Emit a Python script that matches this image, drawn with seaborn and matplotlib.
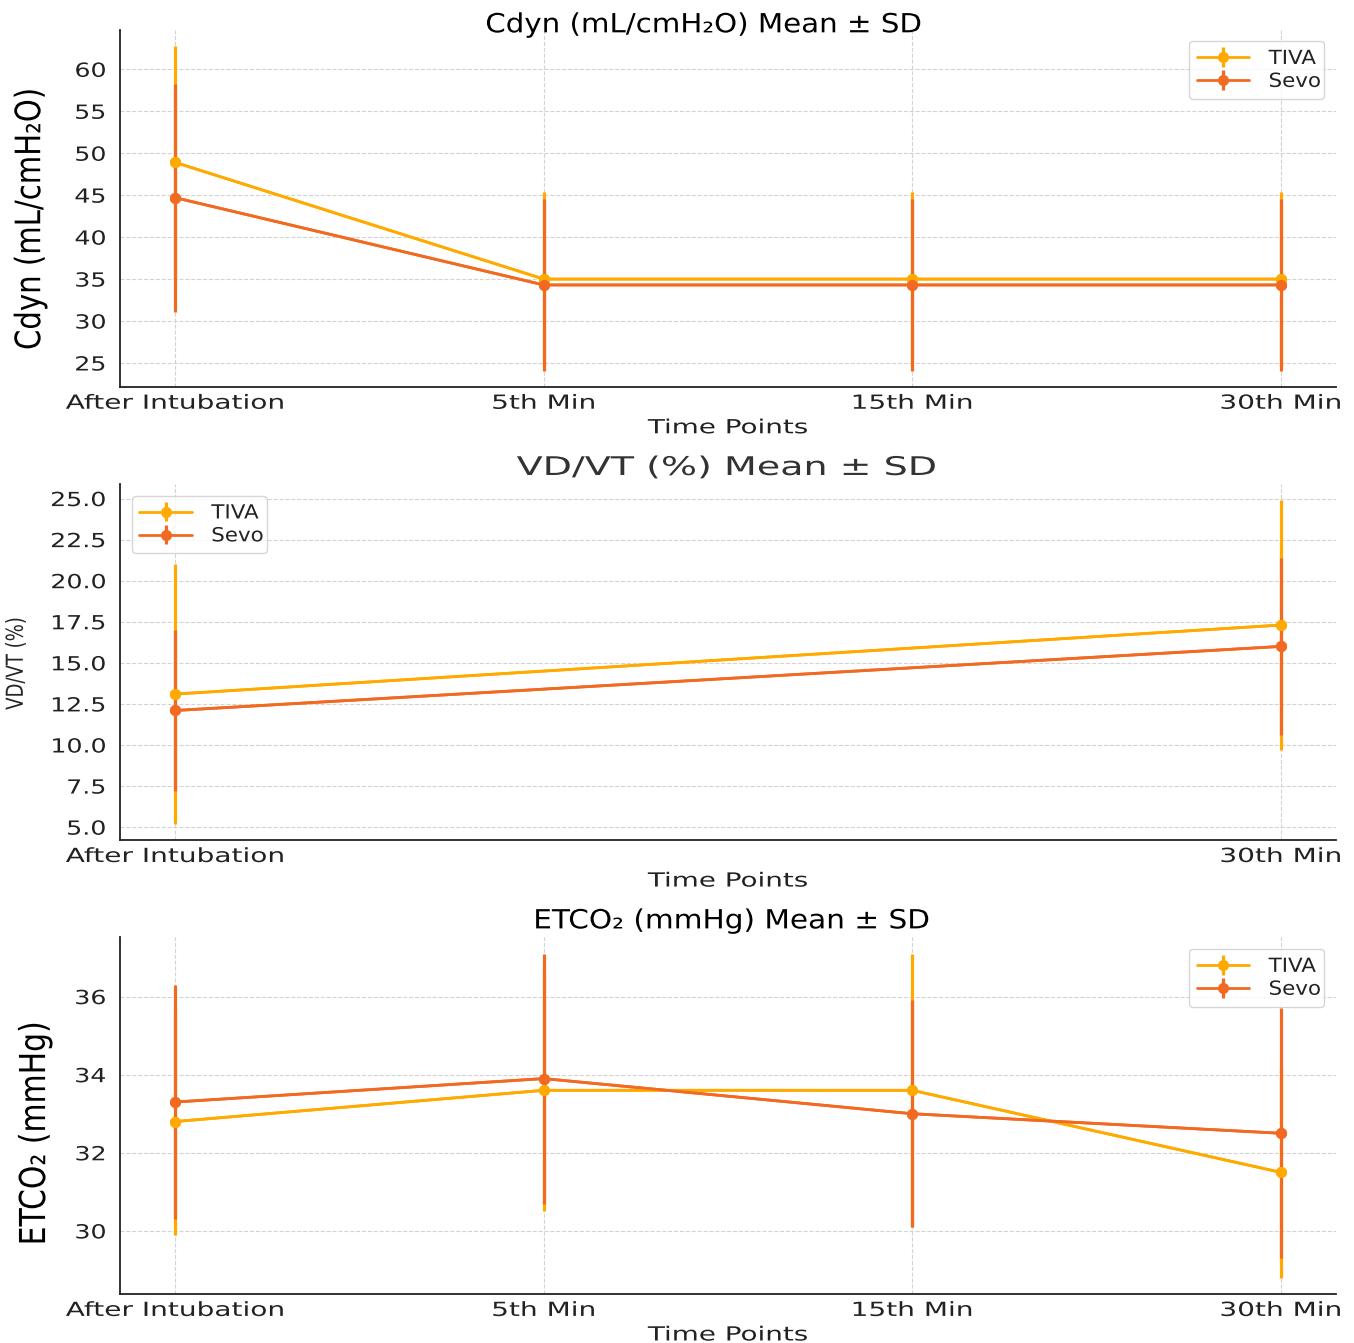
import numpy as np
import matplotlib
matplotlib.use("Agg")
import matplotlib.pyplot as plt
import seaborn as sns
from matplotlib.patheffects import AbstractPathEffect
from matplotlib.transforms import Affine2D
from matplotlib.ticker import FormatStrFormatter

# dados (média e DP)
tempos4 = ["After Intubation", "5th Min", "15th Min", "30th Min"]
tempos2 = ["After Intubation", "30th Min"]

cdyn_tiva = [48.9, 35.0, 35.0, 35.0]
cdyn_tiva_sd = [13.9, 10.4, 10.4, 10.4]
cdyn_sevo = [44.7, 34.3, 34.3, 34.3]
cdyn_sevo_sd = [13.6, 10.2, 10.2, 10.2]

vdvt_tiva = [13.1, 17.3]
vdvt_tiva_sd = [7.9, 7.6]
vdvt_sevo = [12.1, 16.0]
vdvt_sevo_sd = [4.9, 5.4]

etco2_tiva = [32.8, 33.6, 33.6, 31.5]
etco2_tiva_sd = [2.9, 3.1, 3.5, 2.7]
etco2_sevo = [33.3, 33.9, 33.0, 32.5]
etco2_sevo_sd = [3.0, 3.2, 2.9, 3.2]

cores = {"TIVA": "#FFAA00", "Sevo": "#F26A21"}


class Esticar(AbstractPathEffect):
    """Alarga o texto na horizontal (o original estava esticado)."""
    def __init__(self, sx=1.0, sy=1.0, ancora="center"):
        super().__init__()
        self.sx, self.sy, self.ancora = sx, sy, ancora

    def draw_path(self, renderer, gc, tpath, affine, rgbFace=None):
        ext = affine.transform_path(tpath).get_extents()
        if self.ancora == "right":
            cx = ext.x1
        elif self.ancora == "left":
            cx = ext.x0
        else:
            cx = (ext.x0 + ext.x1) / 2
        cy = (ext.y0 + ext.y1) / 2
        t = affine + Affine2D().translate(-cx, -cy).scale(self.sx, self.sy).translate(cx, cy)
        renderer.draw_path(gc, tpath, t, rgbFace)


sns.set_style("whitegrid", {"grid.linestyle": "--", "grid.color": "#d3d3d3",
                            "axes.edgecolor": "#222222"})
plt.rcParams["font.family"] = ["DejaVu Sans"]
plt.rcParams["xtick.direction"] = "in"
plt.rcParams["ytick.direction"] = "in"

fig = plt.figure(figsize=(13.54, 13.43), dpi=100)
L, W = 0.0886, 0.8981
posicoes = [(L, 0.712, W, 0.266), (L, 0.3745, W, 0.2651), (L, 0.0365, W, 0.2655)]

paineis = [
    (tempos4, cdyn_tiva, cdyn_tiva_sd, cdyn_sevo, cdyn_sevo_sd,
     "Cdyn (mL/cmH₂O) Mean ± SD", "Cdyn (mL/cmH₂O)", "upper right"),
    (tempos2, vdvt_tiva, vdvt_tiva_sd, vdvt_sevo, vdvt_sevo_sd,
     "VD/VT (%) Mean ± SD", "VD/VT (%)", "upper left"),
    (tempos4, etco2_tiva, etco2_tiva_sd, etco2_sevo, etco2_sevo_sd,
     "ETCO₂ (mmHg) Mean ± SD", "ETCO₂ (mmHg)", "upper right"),
]

eixos = []
for i, (tempos, m1, s1, m2, s2, titulo, ylab, loc) in enumerate(paineis):
    ax = fig.add_axes(posicoes[i])
    eixos.append(ax)
    x = np.arange(len(tempos))
    for nome, m, s in [("TIVA", m1, s1), ("Sevo", m2, s2)]:
        sns.lineplot(x=x, y=m, ax=ax, color=cores[nome], marker="o",
                     markersize=8, markeredgewidth=0, linewidth=2.0, legend=False)
        ax.errorbar(x, m, yerr=s, fmt="-o", color=cores[nome], elinewidth=2.3,
                    capsize=0, markersize=8, markeredgewidth=0, linewidth=2.0,
                    label=nome)
    ax.set_xticks(x)
    ax.set_xticklabels(tempos, fontsize=14, color="#222222")
    ax.tick_params(axis="y", labelsize=14, labelcolor="#222222", length=0, pad=10)
    ax.tick_params(axis="x", length=6, pad=5, color="#222222")
    ax.margins(x=0.05, y=0.05)
    for lado in ["top", "right"]:
        ax.spines[lado].set_visible(False)
    for lado in ["left", "bottom"]:
        ax.spines[lado].set_linewidth(1.3)
    ax.set_xlabel("Time Points", fontsize=14, color="#222222", labelpad=4,
                  path_effects=[Esticar(1.43)])
    if i == 1:
        ax.set_title(titulo, fontsize=18.5, color="#333333", pad=6.5, x=0.499,
                     path_effects=[Esticar(1.48)])
        ax.set_ylabel(ylab, fontsize=13, path_effects=[Esticar(1.3)])
        ax.yaxis.set_label_coords(-0.078, 0.496)
        ax.yaxis.set_major_formatter(FormatStrFormatter("%.1f"))
    elif i == 0:
        ax.set_title(titulo, fontsize=19, color="black", pad=-2, x=0.48,
                     path_effects=[Esticar(1.11)])
        ax.set_ylabel(ylab, fontsize=21, color="black", path_effects=[Esticar(1.2)])
        ax.yaxis.set_label_coords(-0.062, 0.47)
    else:
        ax.set_title(titulo, fontsize=19, color="black", pad=6.5, x=0.503,
                     path_effects=[Esticar(1.12)])
        ax.set_ylabel(ylab, fontsize=21.5, color="black", path_effects=[Esticar(1.2)])
        ax.yaxis.set_label_coords(-0.058, 0.45)
    leg = ax.legend(loc=loc, fontsize=14, frameon=True, edgecolor="#cccccc",
                    handlelength=2.7, handletextpad=1.0, borderpad=0.4,
                    labelspacing=0.2, borderaxespad=0.6)
    for t in leg.get_texts():
        t.set_color("#222222")
        t.set_path_effects([Esticar(1.1, ancora="left")])

# desenha uma vez para criar os ticks e depois alarga os rótulos
fig.canvas.draw()
for ax in eixos:
    for t in ax.get_xticklabels():
        t.set_path_effects([Esticar(1.44)])
    for t in ax.get_yticklabels():
        t.set_path_effects([Esticar(1.3, ancora="right")])

plt.savefig("out.png", dpi=100)
plt.close()
